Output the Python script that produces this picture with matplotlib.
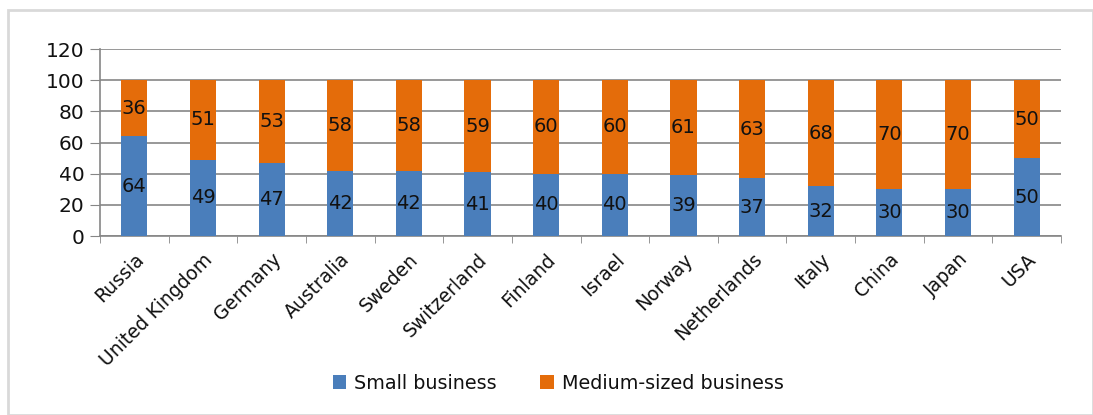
import matplotlib
matplotlib.use("Agg")
import matplotlib.pyplot as plt
from matplotlib.patches import Rectangle
import numpy as np

countries = ["Russia", "United Kingdom", "Germany", "Australia", "Sweden", "Switzerland",
             "Finland", "Israel", "Norway", "Netherlands", "Italy", "China", "Japan", "USA"]
small = [64, 49, 47, 42, 42, 41, 40, 40, 39, 37, 32, 30, 30, 50]
medium = [36, 51, 53, 58, 58, 59, 60, 60, 61, 63, 68, 70, 70, 50]
yticks = [0, 20, 40, 60, 80, 100, 120]

plt.rcParams['font.family'] = ['DejaVu Sans']
W, H = 1093, 415
fig = plt.figure(figsize=(W/100, H/100), dpi=100)
fig.patches.append(Rectangle((8/W, 0), (W-8)/W, (H-10)/H, transform=fig.transFigure,
                             fill=False, edgecolor='#d9d9d9', linewidth=2))
ax = fig.add_axes([100/W, 1-236/H, (1061-100)/W, (236-49)/H])

blue = '#4A7EBB'
orange = '#E46C0A'
x = np.arange(len(countries))
b1 = ax.bar(x, small, width=0.38, color=blue, label='Small business', zorder=3)
b2 = ax.bar(x, medium, width=0.38, bottom=small, color=orange, label='Medium-sized business', zorder=3)
ax.bar_label(b1, labels=[str(v) for v in small], label_type='center', fontsize=14, color='#111111')
ax.bar_label(b2, labels=[str(v) for v in medium], label_type='center', fontsize=14, color='#111111')

ax.set_xlim(-0.5, len(countries) - 0.5)
ax.set_ylim(0, 120)
ax.set_yticks(yticks)
ax.tick_params(axis='y', labelsize=14.5, length=7, color='#868686', pad=4, labelcolor='#111111')
ax.yaxis.grid(True, color='#868686', linewidth=1.2, zorder=0)
ax.set_axisbelow(True)
ax.set_xticks(x)
ax.set_xticklabels(countries, rotation=45, ha='right', rotation_mode='anchor', fontsize=13.5,
                   color='#111111')
ax.tick_params(axis='x', length=0, pad=10)
ax.set_xticks(np.arange(-0.5, len(countries)), minor=True)
ax.tick_params(axis='x', which='minor', length=5, color='#868686')
for s in ['top', 'right']:
    ax.spines[s].set_visible(False)
ax.spines['left'].set_color('#868686')
ax.spines['bottom'].set_color('#868686')
ax.spines['left'].set_linewidth(1.2)
ax.spines['bottom'].set_linewidth(1.2)

fig.legend(handles=[b1, b2], loc='center', bbox_to_anchor=(558/W, 1-383/H), ncol=2,
           frameon=False, fontsize=13.8, handlelength=0.7, handleheight=0.7,
           columnspacing=2.3, handletextpad=0.4, labelcolor='#111111')

fig.savefig('out.png', dpi=100)
